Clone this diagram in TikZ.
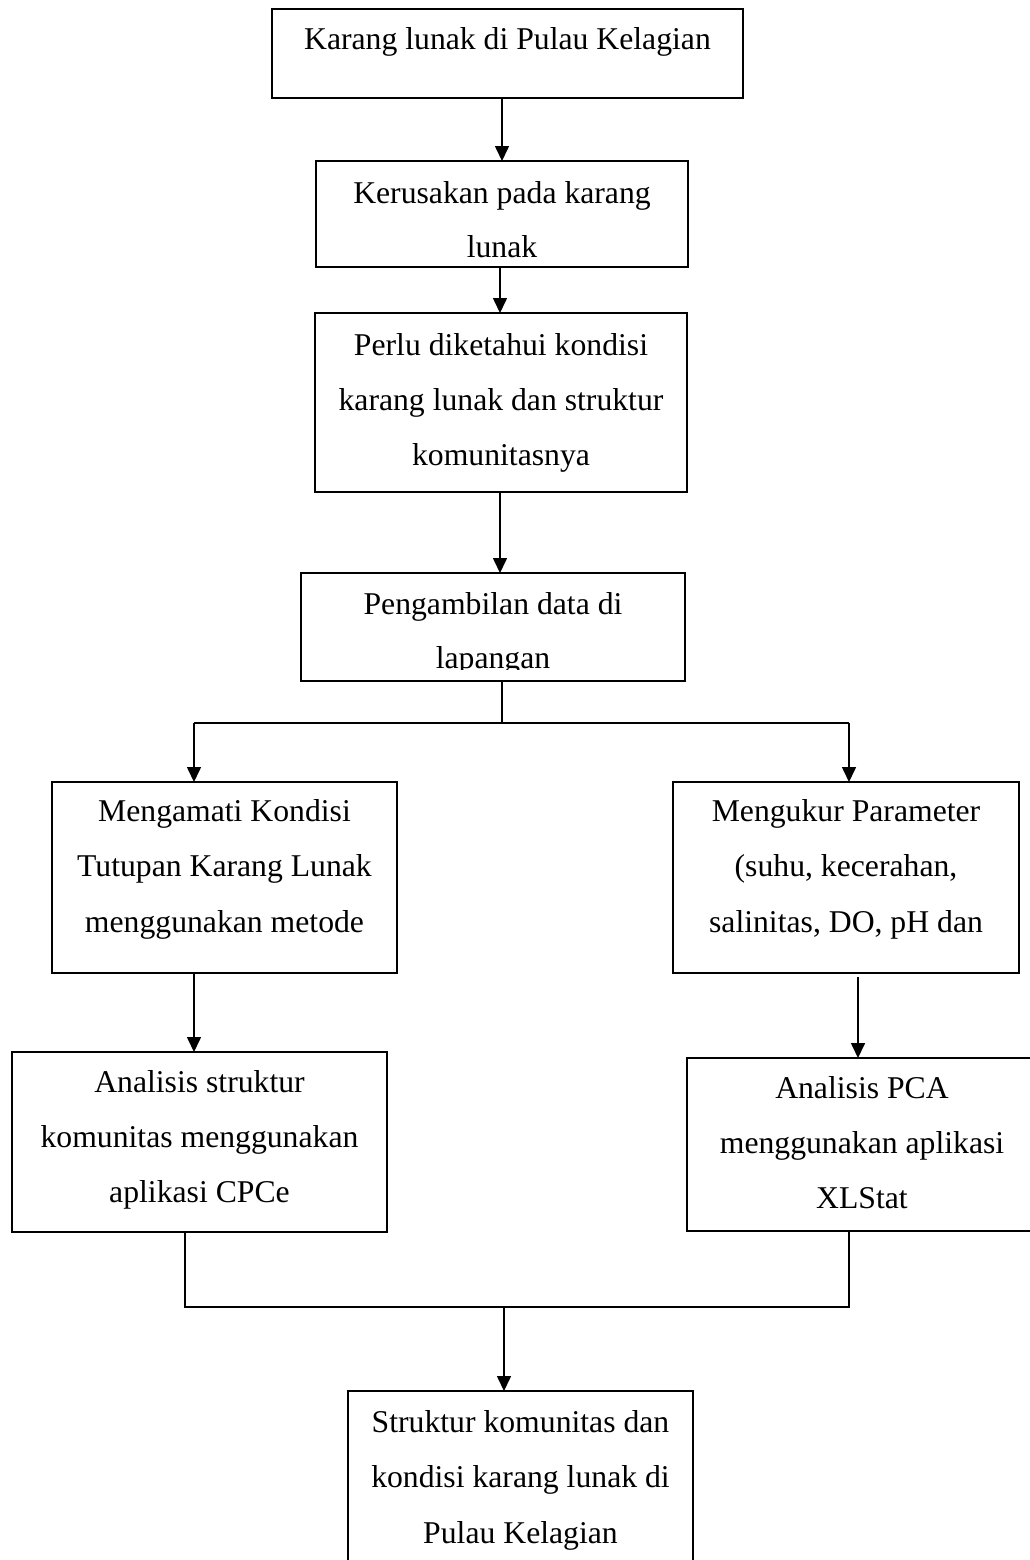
\documentclass[tikz,border=0pt]{standalone}
\usepackage{fontspec}
\setmainfont{Liberation Serif}
\usetikzlibrary{arrows.meta}
\newcommand{\fsz}{\fontsize{31.7}{55}\selectfont}
\tikzset{
  box/.style={draw, line width=1.6pt, inner sep=0pt, outer sep=0pt, rectangle},
  txt/.style={anchor=base, inner sep=0pt, outer sep=0pt, font=\fsz},
  conn/.style={line width=1.6pt},
  arr/.style={line width=1.6pt, -{Triangle[width=14pt,length=15pt]}}
}
\begin{document}
\begin{tikzpicture}[x=1pt,y=-1pt]
\path[use as bounding box, fill=white] (0,0) rectangle (1030,1560);
\clip (0,0) rectangle (1030,1560);
% boxes
\node[box, minimum width=471pt, minimum height=89pt] (b1) at (507.5,53.5) {};
\node[box, minimum width=372pt, minimum height=106pt] (b2) at (502,214) {};
\node[box, minimum width=372pt, minimum height=179pt] (b3) at (501,402.5) {};
\node[box, minimum width=384pt, minimum height=108pt] (b4) at (493,627) {};
\node[box, minimum width=345pt, minimum height=191pt] (b5) at (224.5,877.5) {};
\node[box, minimum width=346pt, minimum height=191pt] (b6) at (846,877.5) {};
\node[box, minimum width=375pt, minimum height=180pt] (b7) at (199.5,1142) {};
\node[box, minimum width=350pt, minimum height=173pt] (b8) at (862,1144.5) {};
\node[box, minimum width=345pt, minimum height=194pt] (b9) at (520.5,1488) {};
% texts
\node[txt] (t1a) at (507.5,50) {Karang lunak di Pulau Kelagian};
\node[txt] (t2a) at (502,203) {Kerusakan pada karang};
\node[txt] (t2b) at (502,257) {lunak};
\node[txt] (t3a) at (501,355) {Perlu diketahui kondisi};
\node[txt] (t3b) at (501,410) {karang lunak dan struktur};
\node[txt] (t3c) at (501,465) {komunitasnya};
\node[txt] (t4a) at (493,614) {Pengambilan data di};
\begin{scope}
\clip (301,573) rectangle (685,669.5);
\node[txt] (t4b) at (493,668) {lapangan};
\end{scope}
\node[txt] (t5a) at (224.5,821) {Mengamati Kondisi};
\node[txt] (t5b) at (224.5,876) {Tutupan Karang Lunak};
\node[txt] (t5c) at (224.5,932) {menggunakan metode};
\node[txt] (t6a) at (846,821) {Mengukur Parameter};
\node[txt] (t6b) at (846,876) {(suhu, kecerahan,};
\node[txt] (t6c) at (846,932) {salinitas, DO, pH dan};
\node[txt] (t7a) at (199.5,1092) {Analisis struktur};
\node[txt] (t7b) at (199.5,1147) {komunitas menggunakan};
\node[txt] (t7c) at (199.5,1202) {aplikasi CPCe};
\node[txt] (t8a) at (862,1098) {Analisis PCA};
\node[txt] (t8b) at (862,1153) {menggunakan aplikasi};
\node[txt] (t8c) at (862,1208) {XLStat};
\node[txt] (t9a) at (520.5,1432) {Struktur komunitas dan};
\node[txt] (t9b) at (520.5,1487) {kondisi karang lunak di};
\node[txt] (t9c) at (520.5,1543) {Pulau Kelagian};
% junction points
\coordinate (j1) at (502,723);
\coordinate (j1l) at (194,723);
\coordinate (j1r) at (849,723);
\coordinate (j2) at (504,1307);
\coordinate (j2l) at (185,1307);
\coordinate (j2r) at (849,1307);
% connectors
\draw[arr] (b2.north |- b1.south) -- (b2.north);
\draw[arr] ([xshift=-1pt]b3.north |- b2.south) -- ([xshift=-1pt]b3.north);
\draw[arr] ([xshift=-1pt]b3.south) -- ([xshift=-1pt]b3.south |- b4.north);
\draw[conn] (b4.south -| j1) -- (j1);
\draw[conn] (j1l) -- (j1r);
\draw[arr] (j1l) -- (j1l |- b5.north);
\draw[arr] (j1r) -- (j1r |- b6.north);
\draw[arr] ([xshift=-30.5pt]b5.south) -- ([xshift=-5.5pt]b7.north);
\draw[arr] ([xshift=12pt,yshift=-4pt]b6.south) -- ([xshift=-4pt]b8.north);
\draw[conn] (b7.south -| j2l) -- (j2l) -- (j2r) -- (b8.south -| j2r);
\draw[arr] (j2) -- (j2 |- b9.north);
\end{tikzpicture}
\end{document}
